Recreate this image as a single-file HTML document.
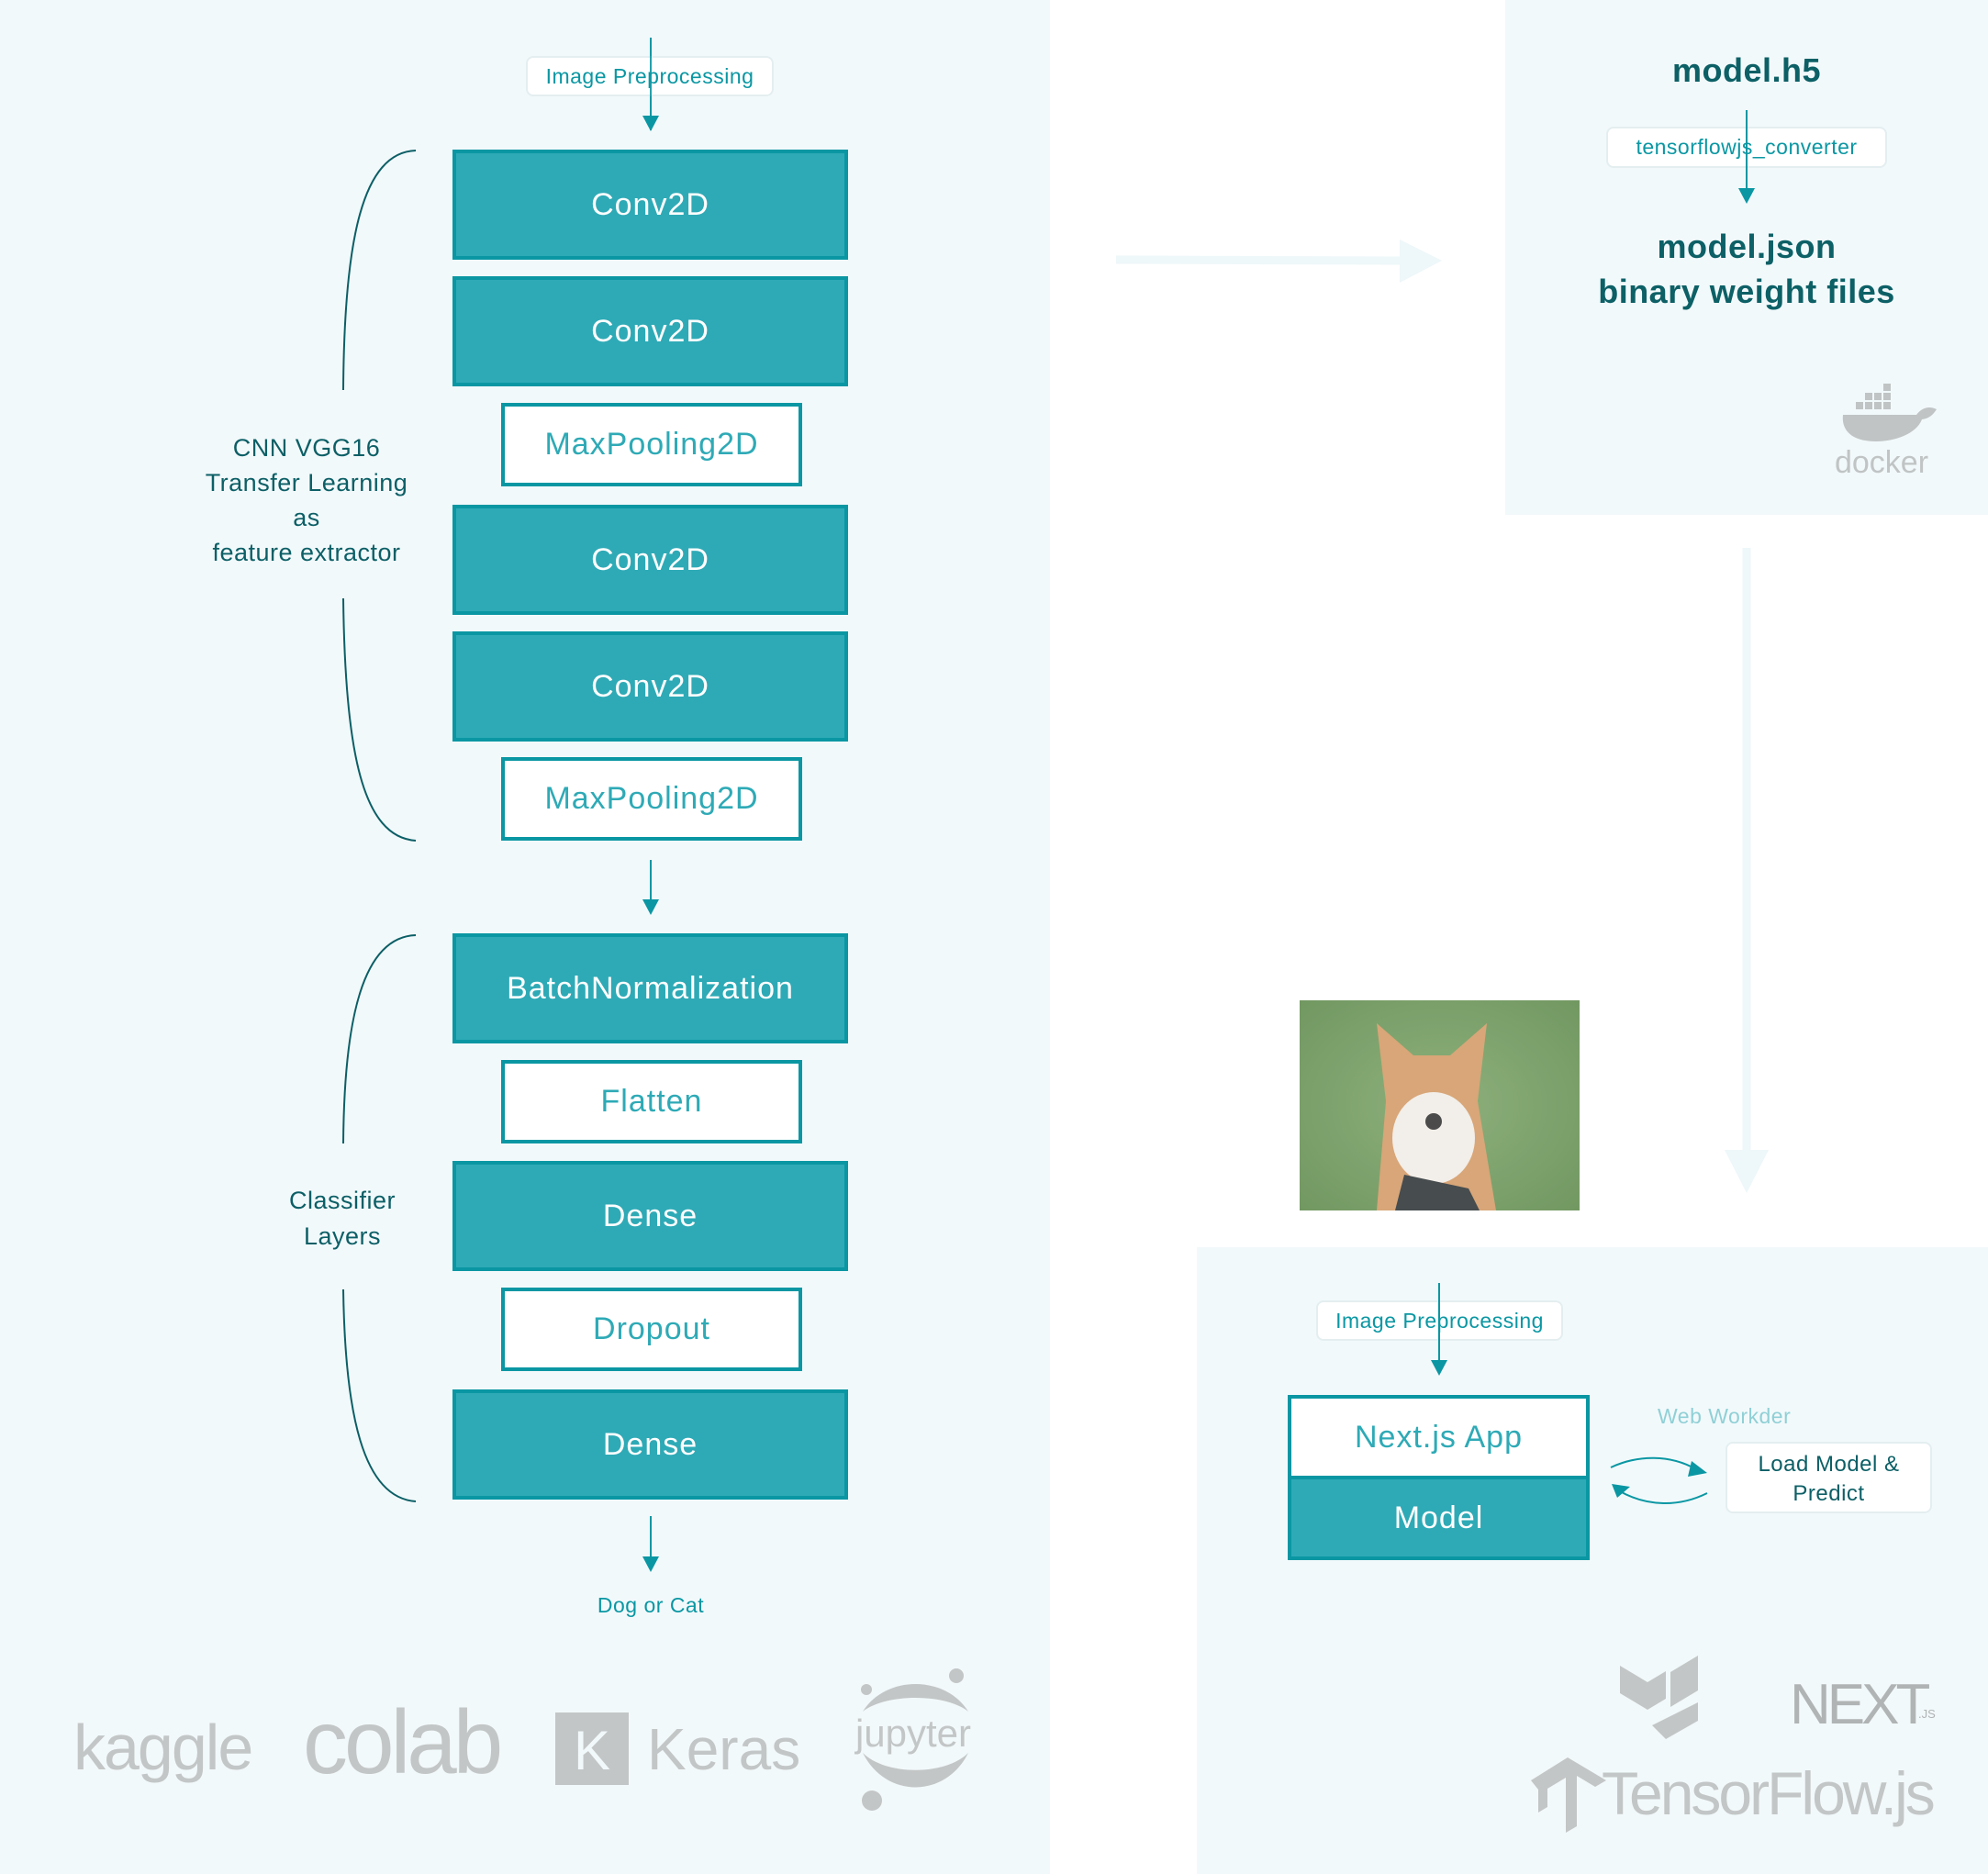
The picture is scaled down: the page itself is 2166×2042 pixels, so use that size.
<!DOCTYPE html>
<html><head><meta charset="utf-8"><style>
body{margin:0;width:2166px;height:2042px;position:relative;background:#fff;font-family:"Liberation Sans",sans-serif;overflow:hidden}
.a{position:absolute;box-sizing:border-box}
.f{background:#2eaab6;border:4px solid #0a97a3;color:#fff;display:flex;align-items:center;justify-content:center;font-size:34px;letter-spacing:1px}
.w{background:#fff;border:4px solid #0a97a3;color:#2eaab6;display:flex;align-items:center;justify-content:center;font-size:34px;letter-spacing:1px}
.lbl{background:#fff;border:2px solid #e4eef0;border-radius:8px;color:#0a97a3;font-size:23px;display:flex;align-items:center;justify-content:center;letter-spacing:.5px}
.t{color:#0c5f66;text-align:center;letter-spacing:.5px}
</style></head><body>
<div class="a" style="left:0;top:0;width:1144px;height:2042px;background:#f2f9fb"></div>
<div class="a" style="left:1640px;top:0;width:526px;height:561px;background:#f2f9fb"></div>
<div class="a" style="left:1304px;top:1359px;width:862px;height:683px;background:#f2f9fb"></div>

<svg class="a" style="left:0;top:0" width="2166" height="2042">
<g stroke="#0a97a3" stroke-width="2" fill="#0a97a3">
<line x1="709" y1="41" x2="709" y2="128"/><polygon points="700,126 718,126 709,143" stroke="none"/>
<line x1="709" y1="937" x2="709" y2="982"/><polygon points="700,980 718,980 709,997" stroke="none"/>
<line x1="709" y1="1652" x2="709" y2="1698"/><polygon points="700,1696 718,1696 709,1713" stroke="none"/>
<line x1="1903" y1="120" x2="1903" y2="207"/><polygon points="1894,205 1912,205 1903,222" stroke="none"/>
<line x1="1568" y1="1398" x2="1568" y2="1484"/><polygon points="1559,1482 1577,1482 1568,1499" stroke="none"/>
</g>
<g stroke="#0c5f66" stroke-width="2" fill="none">
<path d="M453,164 C395,166 375,260 374,425"/>
<path d="M374,652 C376,820 395,912 453,916"/>
<path d="M453,1019 C395,1021 375,1110 374,1246"/>
<path d="M374,1405 C376,1540 395,1632 453,1636"/>
</g>
<g stroke="#eef7f9" fill="#eef7f9">
<line x1="1216" y1="283" x2="1530" y2="284" stroke-width="9"/><polygon points="1525,261 1571,284 1525,308" stroke="none"/>
<line x1="1903" y1="597" x2="1903" y2="1260" stroke-width="9"/><polygon points="1879,1253 1927,1253 1903,1300" stroke="none"/>
</g>
<g stroke="#0a97a3" stroke-width="2" fill="none">
<path d="M1755,1599 C1785,1585 1820,1585 1848,1601"/>
<path d="M1860,1627 C1830,1642 1795,1642 1765,1625"/>
</g>
<polygon points="1843,1592 1860,1605 1839,1609" fill="#0a97a3"/>
<polygon points="1756,1617 1776,1620 1762,1632" fill="#0a97a3"/>
<defs><radialGradient id="g" cx=".5" cy=".5" r=".7"><stop offset="0" stop-color="#7fa66a"/><stop offset="1" stop-color="#5f8a4c"/></radialGradient></defs>
<rect x="1416" y="1090" width="305" height="229" fill="url(#g)"/>
<path d="M1500,1319 L1510,1200 L1500,1115 L1540,1150 L1580,1150 L1620,1115 L1610,1200 L1630,1319 Z" fill="#d39a66"/>
<ellipse cx="1562" cy="1240" rx="45" ry="50" fill="#f1ece6"/>
<path d="M1520,1319 L1530,1280 L1600,1295 L1612,1319Z" fill="#2e3436"/>
<circle cx="1562" cy="1222" r="9" fill="#333"/>
<rect x="1416" y="1090" width="305" height="229" fill="#fff" opacity=".12"/>
<g fill="#c0c4c4">
<path d="M2008,452 h80 c6,-8 14,-10 22,-6 c-4,6 -8,10 -16,11 c-6,16 -30,24 -50,24 c-26,0 -38,-12 -36,-29z"/>
<rect x="2022" y="438" width="8" height="8"/><rect x="2032" y="438" width="8" height="8"/><rect x="2042" y="438" width="8" height="8"/><rect x="2052" y="438" width="8" height="8"/><rect x="2032" y="428" width="8" height="8"/><rect x="2042" y="428" width="8" height="8"/><rect x="2052" y="428" width="8" height="8"/><rect x="2052" y="418" width="8" height="8"/>
</g>
<text x="2050" y="515" font-size="34" fill="#c0c4c4" text-anchor="middle" font-family="Liberation Sans">docker</text>
<g fill="#c3c6c6" font-family="Liberation Sans">
<text x="80" y="1928" font-size="70" letter-spacing="-2">kaggle</text>
<text x="330" y="1932" font-size="98" letter-spacing="-4">colab</text>
<rect x="605" y="1866" width="80" height="79"/>
<text x="645" y="1928" font-size="60" fill="#f2f9fb" text-anchor="middle">K</text>
<text x="705" y="1928" font-size="64">Keras</text>
<text x="995" y="1903" font-size="42" text-anchor="middle">jupyter</text>
<path d="M940,1865 C965,1825 1030,1825 1055,1865 C1030,1845 965,1845 940,1865Z"/>
<path d="M940,1910 C965,1960 1030,1960 1055,1910 C1030,1935 965,1935 940,1910Z"/>
<circle cx="1042" cy="1826" r="8"/><circle cx="944" cy="1841" r="6"/><circle cx="950" cy="1962" r="11"/>
<path d="M1765,1815 l30,18 l20,-12 v30 l-20,12 l-30,-18z M1820,1822 l30,-18 v38 l-30,18z M1800,1880 l50,-25 v20 l-35,20z" />
<text x="1950" y="1878" font-size="62" letter-spacing="-4" fill="#b0b4b4">NEXT</text>
<text x="2090" y="1872" font-size="13" fill="#b0b4b4">.JS</text>
<path d="M1668,1940 l40,-25 l42,25 l-12,7 l-20,-12 v55 l-12,7 v-60 l-20,12 v20 l-10,6 v-25z"/>
<text x="1745" y="1977" font-size="66" letter-spacing="-3">TensorFlow.js</text>
</g>
</svg>

<div class="a lbl" style="left:573px;top:61px;width:270px;height:44px">Image Preprocessing</div>
<div class="a" style="left:708px;top:41px;width:2px;height:101px;background:#0a97a3;opacity:.9"></div>

<div class="a f" style="left:493px;top:163px;width:431px;height:120px">Conv2D</div>
<div class="a f" style="left:493px;top:301px;width:431px;height:120px">Conv2D</div>
<div class="a w" style="left:546px;top:439px;width:328px;height:91px">MaxPooling2D</div>
<div class="a f" style="left:493px;top:550px;width:431px;height:120px">Conv2D</div>
<div class="a f" style="left:493px;top:688px;width:431px;height:120px">Conv2D</div>
<div class="a w" style="left:546px;top:825px;width:328px;height:91px">MaxPooling2D</div>
<div class="a f" style="left:493px;top:1017px;width:431px;height:120px">BatchNormalization</div>
<div class="a w" style="left:546px;top:1155px;width:328px;height:91px">Flatten</div>
<div class="a f" style="left:493px;top:1265px;width:431px;height:120px">Dense</div>
<div class="a w" style="left:546px;top:1403px;width:328px;height:91px">Dropout</div>
<div class="a f" style="left:493px;top:1514px;width:431px;height:120px">Dense</div>

<div class="a t" style="left:194px;top:469px;width:280px;font-size:27px;line-height:38px">CNN VGG16<br>Transfer Learning<br>as<br>feature extractor</div>
<div class="a t" style="left:273px;top:1289px;width:200px;font-size:27px;line-height:39px">Classifier<br>Layers</div>
<div class="a" style="left:609px;top:1736px;width:200px;text-align:center;color:#0a97a3;font-size:23px;letter-spacing:.5px">Dog or Cat</div>

<div class="a t" style="left:1703px;top:54px;width:400px;font-size:36px;font-weight:bold;line-height:46px;color:#0c6066">model.h5</div>
<div class="a lbl" style="left:1750px;top:138px;width:306px;height:45px">tensorflowjs_converter</div>
<div class="a" style="left:1902px;top:120px;width:2px;height:90px;background:#0a97a3"></div>
<div class="a t" style="left:1653px;top:244px;width:500px;font-size:36px;font-weight:bold;line-height:49px;color:#0c6066">model.json<br>binary weight files</div>

<div class="a lbl" style="left:1434px;top:1417px;width:269px;height:44px">Image Preprocessing</div>
<div class="a" style="left:1567px;top:1398px;width:2px;height:86px;background:#0a97a3"></div>
<div class="a w" style="left:1403px;top:1520px;width:329px;height:92px;font-size:34px">Next.js App</div>
<div class="a f" style="left:1403px;top:1608px;width:329px;height:92px;font-size:34px">Model</div>
<div class="a" style="left:1806px;top:1530px;color:#8fd0d6;font-size:23px;letter-spacing:.5px">Web Workder</div>
<div class="a" style="left:1880px;top:1571px;width:225px;height:78px;background:#fff;border:2px solid #e4eef0;border-radius:8px;color:#0c5f66;font-size:24px;line-height:32px;text-align:center;padding-top:7px;letter-spacing:.5px">Load Model &amp;<br>Predict</div>
</body></html>
